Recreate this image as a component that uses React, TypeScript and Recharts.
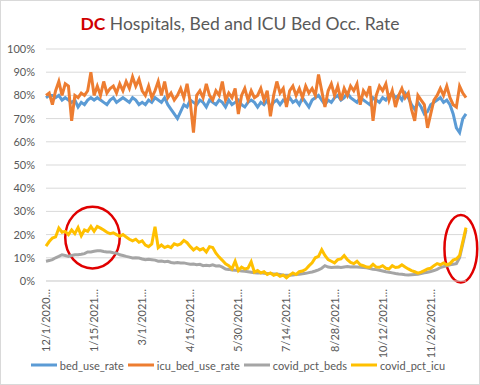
import React from 'react';
import { LineChart, Line, XAxis, YAxis, CartesianGrid, Legend, ReferenceArea } from 'recharts';

// one point every 3 days, starting 12/1/2020
const START_DATE = Date.UTC(2020, 11, 1);
const STEP_DAYS = 3;

const bedUseRate = [
  79, 80, 80, 79, 80, 78, 79, 78, 77, 78,
  75, 77, 76, 78, 79, 78, 79, 78, 77, 76,
  78, 79, 77, 78, 79, 78, 77, 79, 78, 76,
  77, 76, 78, 77, 79, 78, 77, 79, 76, 74,
  72, 70, 73, 76, 75, 78, 77, 76, 78, 77,
  75, 78, 77, 76, 78, 77, 75, 78, 76, 77,
  78, 76, 75, 77, 78, 77, 75, 77, 76, 78,
  75, 77, 78, 76, 78, 77, 79, 77, 78, 76,
  79, 77, 75, 78, 79, 80, 78, 76, 78, 77,
  79, 80, 78, 79, 81, 79, 78, 77, 79, 78,
  77, 76, 79, 78, 77, 79, 78, 80, 81, 79,
  80, 78, 81, 79, 76, 74, 77, 75, 72, 73,
  76, 77, 78, 79, 77, 78, 76, 72, 66, 64,
  70, 72,
];

const icuBedUseRate = [
  80, 81, 76, 82, 86, 80, 85, 84, 69, 80,
  79, 81, 80, 82, 90, 80, 84, 80, 86, 81,
  83, 84, 81, 85, 82, 86, 83, 88, 84, 87,
  82, 80, 84, 79, 82, 86, 80, 86, 79, 81,
  78, 80, 83, 79, 85, 77, 64, 80, 82, 79,
  85, 80, 78, 82, 80, 86, 78, 81, 79, 83,
  72, 80, 83, 78, 82, 79, 80, 83, 78, 82,
  71, 80, 86, 81, 83, 75, 82, 84, 80, 83,
  79, 84, 81, 83, 80, 89, 82, 75, 82, 85,
  80, 84, 78, 83, 80, 84, 82, 85, 76, 82,
  80, 84, 69, 80, 84, 82, 85, 78, 82, 75,
  80, 83, 79, 81, 74, 69, 80, 78, 76, 66,
  72, 78, 80, 83, 80, 84, 79, 76, 75, 84,
  81, 79,
];

const covidPctBeds = [
  8.5, 8.8, 9.2, 10, 10.6, 11.3, 11, 10.6, 11, 11.3,
  11.3, 11.5, 11.8, 12.5, 12.5, 12.8, 13, 13, 12.7, 12.5,
  12.5, 12.2, 12, 11.3, 11, 10.6, 10.3, 9.9, 10, 9.9,
  9.5, 9.2, 9.4, 9.2, 9, 8.5, 8.6, 8.3, 8.5, 8,
  7.8, 8, 7.8, 7.8, 7.5, 7.2, 7.3, 7, 7.2, 6.6,
  6.8, 6.6, 7, 6.5, 6.6, 6, 5.2, 5, 4.7, 4.6,
  4.5, 4.3, 4.2, 4, 3.8, 3.6, 3.4, 3.5, 3.3, 3.2,
  3.2, 3, 3, 2.8, 2.6, 2.5, 2.5, 2.6, 2.8, 2.9,
  3.1, 3.3, 3.6, 3.9, 4.3, 4.8, 5.5, 6.6, 6, 5.8,
  5.9, 6, 5.8, 6, 6.2, 6, 6.1, 6, 5.9, 5.8,
  5.7, 5.4, 5.1, 4.9, 4.6, 4.3, 4, 3.8, 3.5, 3.2,
  3, 2.9, 2.7, 2.6, 2.7, 2.8, 2.9, 3.2, 3.5, 3.8,
  4.1, 4.5, 5, 5.8, 6.2, 6.6, 7, 7.2, 7.5, 10,
  16, 22,
];

const covidPctIcu = [
  15, 17, 18.5, 19, 22.8, 21, 21.4, 20, 22, 20.4,
  23, 19.5, 22, 21.4, 23.5, 21.4, 23.5, 22.8, 22, 21,
  20.4, 20.8, 20, 19.3, 20, 19, 18, 17.3, 18, 16.7,
  17.3, 15.5, 14.8, 16, 23.4, 14.4, 15.5, 14.4, 15, 14.4,
  16, 15.5, 16, 17.5, 16.5, 14.8, 13.4, 14.4, 13.4, 14,
  12.5, 14.8, 14.4, 12, 10.3, 8.9, 7.4, 6.6, 5.2, 8.5,
  4.5, 6, 5.2, 5.5, 8.3, 3.8, 4.5, 3.5, 4, 2.8,
  3.5, 2.5, 3, 2, 2.5, 1.4, 2.5, 3.5, 2.8, 4,
  4.3, 5, 6.5, 7.8, 10, 10.6, 13.5, 11, 9.2, 8.5,
  7.8, 9.2, 9.5, 11, 9.2, 8, 7.5, 8.5, 7, 6.6,
  6, 5.9, 7.2, 6, 5.9, 6.6, 5.5, 5.2, 6.6, 5.8,
  6, 7, 6, 5.2, 4.5, 4, 3.4, 3.8, 4.5, 5.2,
  5.5, 6.6, 7.5, 7, 7.8, 7, 7.5, 9, 9.5, 11,
  17, 23,
];

const yTicks = [0, 10, 20, 30, 40, 50, 60, 70, 80, 90, 100];
const seriesOrder = ['bed_use_rate', 'icu_bed_use_rate', 'covid_pct_beds', 'covid_pct_icu'];

const dates = bedUseRate.map((_, i) => {
  const d = new Date(START_DATE + i * STEP_DAYS * 86400000);
  return `${d.getUTCMonth() + 1}/${d.getUTCDate()}/${d.getUTCFullYear()}`;
});

const data = dates.map((date, i) => ({
  date,
  bed_use_rate: bedUseRate[i],
  icu_bed_use_rate: icuBedUseRate[i],
  covid_pct_beds: covidPctBeds[i],
  covid_pct_icu: covidPctIcu[i],
}));

const FONT = "Lato, 'Liberation Sans', sans-serif";
const TEXT = '#595959';

const DateTick = ({ x, y, payload }: any) => (
  <g transform={`translate(${x},${y})`}>
    <text transform="rotate(-90)" textAnchor="end" dy="0.36em" fill={TEXT} fontSize={11} fontFamily={FONT}>
      {payload.value}…
    </text>
  </g>
);

const LegendContent = ({ payload }: any) => {
  const items = [...(payload || [])].sort(
    (a: any, b: any) => seriesOrder.indexOf(a.dataKey) - seriesOrder.indexOf(b.dataKey)
  );
  return (
    <div style={{ display: 'flex', justifyContent: 'center', alignItems: 'center', height: 20, fontFamily: FONT, fontSize: 11, color: TEXT, whiteSpace: 'nowrap' }}>
      {items.map((p: any) => (
        <span key={p.value} style={{ display: 'flex', alignItems: 'center', marginRight: 4 }}>
          <svg width={26} height={4}>
            <line x1={0} y1={2} x2={26} y2={2} stroke={p.color} strokeWidth={3} />
          </svg>
          <span style={{ marginLeft: 3 }}>{p.value}</span>
        </span>
      ))}
    </div>
  );
};

// hand-drawn red rings from the original
const ring = (fx: number, fw: number) => (props: any) => {
  const { x, y, width, height } = props;
  return (
    <ellipse
      cx={x + width * fx}
      cy={y + height / 2}
      rx={(width * fw) / 2}
      ry={height / 2}
      fill="none"
      stroke="#e00000"
      strokeWidth={2.5}
    />
  );
};

export default function App() {
  return (
    <div style={{ position: 'absolute', left: 0, top: 0, width: 480, height: 385, background: '#fff' }}>
      <div style={{ position: 'absolute', top: 14, left: 0, width: 480, textAlign: 'center', fontFamily: FONT, fontSize: 17.5, lineHeight: '19px', color: TEXT }}>
        <span style={{ color: '#d00000', fontWeight: 'bold' }}>DC</span> Hospitals, Bed and ICU Bed Occ. Rate
      </div>
      <LineChart width={480} height={385} data={data} margin={{ top: 49, right: 14, bottom: 10, left: 8 }}>
        <CartesianGrid vertical={false} stroke="#d9d9d9" />
        <XAxis
          dataKey="date"
          interval={14}
          tickLine={false}
          axisLine={{ stroke: '#d9d9d9' }}
          height={74}
          tick={<DateTick />}
        />
        <YAxis
          domain={[0, 100]}
          ticks={yTicks}
          width={38}
          tickLine={false}
          axisLine={false}
          tickMargin={5}
          tickFormatter={(v: number) => `${v}%`}
          tick={{ fill: TEXT, fontSize: 11, fontFamily: FONT }}
        />
        <Line dataKey="bed_use_rate" stroke="#5b9bd5" strokeWidth={3} dot={false} isAnimationActive={false} />
        <Line dataKey="icu_bed_use_rate" stroke="#ed7d31" strokeWidth={3} dot={false} isAnimationActive={false} />
        <Line dataKey="covid_pct_beds" stroke="#a5a5a5" strokeWidth={3} dot={false} isAnimationActive={false} />
        <Line dataKey="covid_pct_icu" stroke="#ffc000" strokeWidth={3} dot={false} isAnimationActive={false} />
        <ReferenceArea x1={dates[6]} x2={dates[23]} y1={5.4} y2={32} ifOverflow="visible" shape={ring(0.5, 1)} />
        <ReferenceArea x1={dates[124]} x2={dates[131]} y1={-0.6} y2={28.5} ifOverflow="visible" shape={ring(0.77, 1.46)} />
        <Legend verticalAlign="bottom" content={<LegendContent />} wrapperStyle={{ left: 0, width: 480 }} />
      </LineChart>
      <div style={{ position: 'absolute', inset: 0, border: '1px solid #d9d9d9', pointerEvents: 'none' }} />
    </div>
  );
}
